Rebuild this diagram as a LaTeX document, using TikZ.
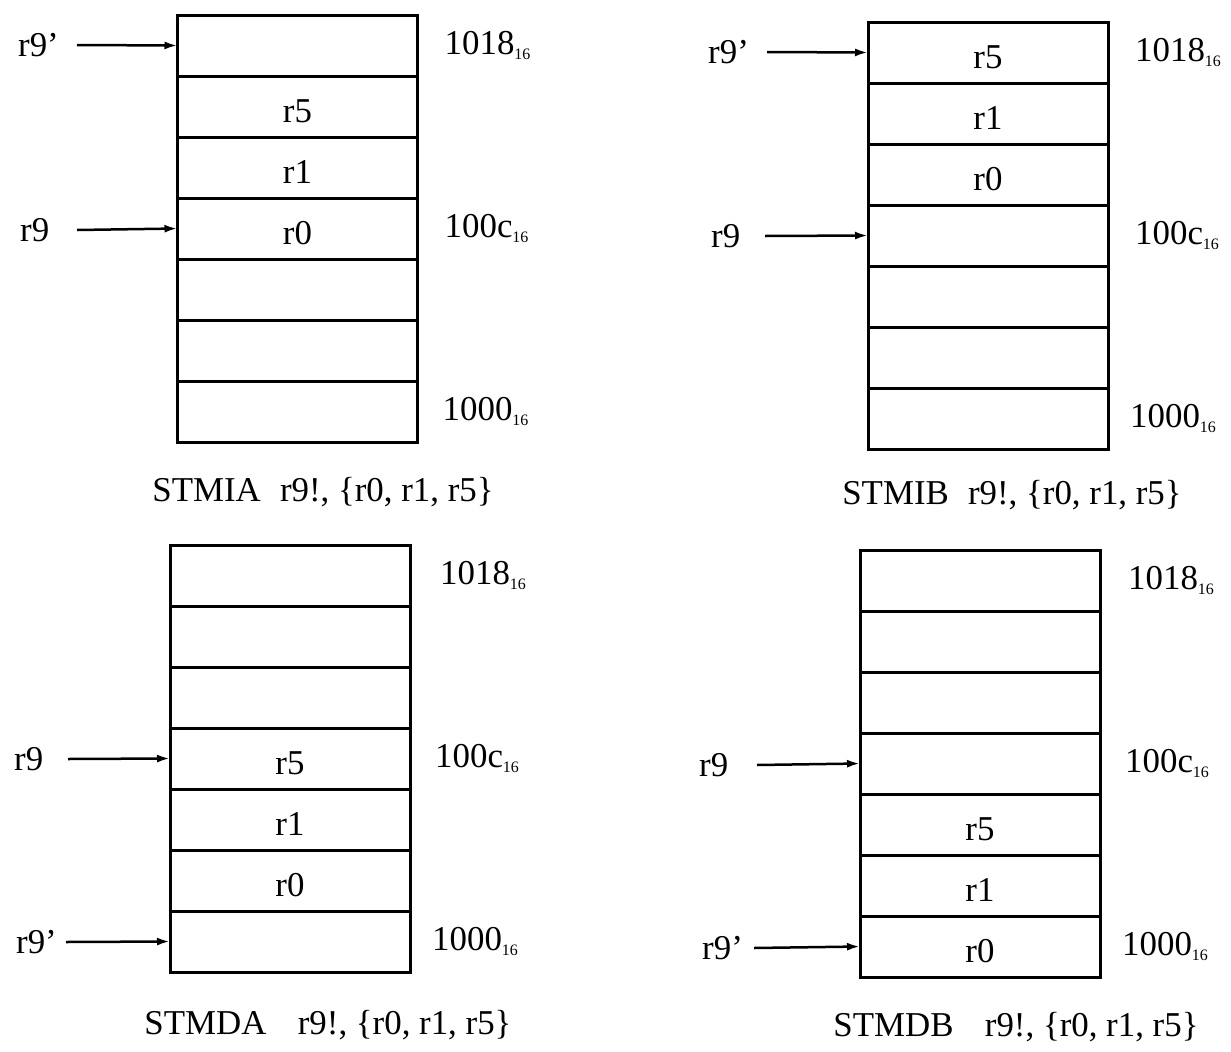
\documentclass[tikz,border=0pt]{standalone}
\usepackage{fontspec}
\setmainfont{Liberation Serif}
\usetikzlibrary{arrows.meta}
\newcommand\hexsub[1]{\raisebox{-5bp}{\fontsize{16}{16}\selectfont #1}}
\newcommand\memstack[4]{%
  \foreach \t [count=\i] in {#4} {
    \node[cell] (#1\i) at (#2, {#3+61*(\i-1)}) {\t};
  }%
}
\begin{document}
\begin{tikzpicture}[x=1bp,y=-1bp,
  cell/.style={draw, line width=3bp, minimum width=240bp, minimum height=61bp,
    inner sep=0pt, outer sep=0pt, anchor=north, text height=31bp, text depth=0pt,
    font=\fontsize{35}{35}\selectfont},
  reg/.style={anchor=west, inner sep=0pt, font=\fontsize{35}{35}\selectfont},
  addr/.style={anchor=west, inner sep=0pt, font=\fontsize{35}{35}\selectfont},
  caption/.style={inner sep=0pt, font=\fontsize{35}{35}\selectfont},
  ptr/.style={line width=2.5bp, -{Latex[length=13bp,width=8bp]}}
]
\useasboundingbox[fill=white] (0,0) rectangle (1231,1052);

% ---------- STMIA (top left)
\memstack{A}{297.5}{15}{\relax,r5,r1,r0,\relax,\relax,\relax}
\node[reg] (Arp) at (18,45) {r9’};
\node[reg] (Ar)  at (20,230) {r9};
\coordinate (As1) at (77,45);
\coordinate (As2) at (77,230);
\draw[ptr] (As1) -- (A1.west);
\draw[ptr] (As2) -- (A4.west);
\node[addr] (Aa1) at ([xshift=27bp]A1.east) {1018\hexsub{16}};
\node[addr] (Aa4) at ([xshift=27bp]A4.east) {100c\hexsub{16}};
\node[addr] (Aa7) at ([xshift=25bp]A7.east) {1000\hexsub{16}};
\node[caption] (Acap) at (323,492) {STMIA\hspace{0.55em}r9!, \{r0, r1, r5\}};

% ---------- STMIB (top right)
\memstack{B}{988}{22}{r5,r1,r0,\relax,\relax,\relax,\relax}
\node[reg] (Brp) at (708,52) {r9’};
\node[reg] (Br)  at (711,236) {r9};
\coordinate (Bs1) at (767,52);
\coordinate (Bs2) at (765,236);
\draw[ptr] (Bs1) -- (B1.west);
\draw[ptr] (Bs2) -- (B4.west);
\node[addr] (Ba1) at ([xshift=27bp]B1.east) {1018\hexsub{16}};
\node[addr] (Ba4) at ([xshift=27bp]B4.east) {100c\hexsub{16}};
\node[addr] (Ba7) at ([xshift=22bp]B7.east) {1000\hexsub{16}};
\node[caption] (Bcap) at (1012,495) {STMIB\hspace{0.55em}r9!, \{r0, r1, r5\}};

% ---------- STMDA (bottom left)
\memstack{C}{290}{545}{\relax,\relax,\relax,r5,r1,r0,\relax}
\node[reg] (Cr)  at (14,759) {r9};
\node[reg] (Crp) at (16,942) {r9’};
\coordinate (Cs1) at (68,759);
\coordinate (Cs2) at (66,942);
\draw[ptr] (Cs1) -- (C4.west);
\draw[ptr] (Cs2) -- (C7.west);
\node[addr] (Ca1) at ([xshift=30bp]C1.east) {1018\hexsub{16}};
\node[addr] (Ca4) at ([xshift=25bp]C4.east) {100c\hexsub{16}};
\node[addr] (Ca7) at ([xshift=22bp]C7.east) {1000\hexsub{16}};
\node[caption] (Ccap) at (328,1025) {STMDA\hspace{0.9em}r9!, \{r0, r1, r5\}};

% ---------- STMDB (bottom right)
\memstack{D}{980}{550}{\relax,\relax,\relax,\relax,r5,r1,r0}
\node[reg] (Dr)  at (699,765) {r9};
\node[reg] (Drp) at (702,948) {r9’};
\coordinate (Ds1) at (757,765);
\coordinate (Ds2) at (754,948);
\draw[ptr] (Ds1) -- (D4.west);
\draw[ptr] (Ds2) -- (D7.west);
\node[addr] (Da1) at ([xshift=28bp]D1.east) {1018\hexsub{16}};
\node[addr] (Da4) at ([xshift=25bp]D4.east) {100c\hexsub{16}};
\node[addr] (Da7) at ([xshift=22bp]D7.east) {1000\hexsub{16}};
\node[caption] (Dcap) at (1016,1027) {STMDB\hspace{0.9em}r9!, \{r0, r1, r5\}};
\end{tikzpicture}
\end{document}
